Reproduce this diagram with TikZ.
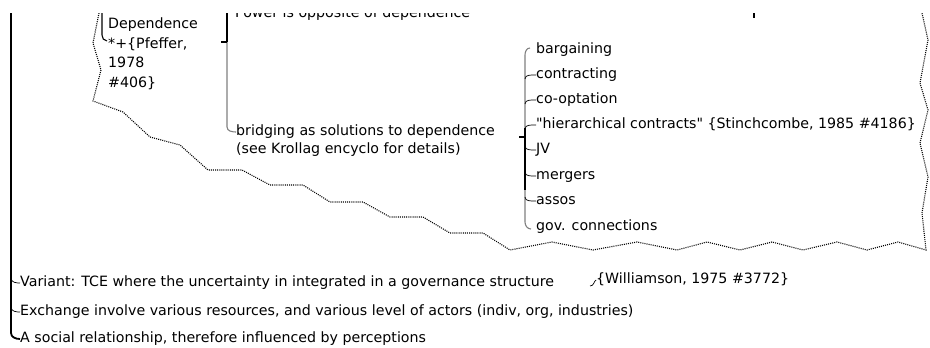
\documentclass[tikz,border=0pt]{standalone}
\usepackage{fontspec}
\setmainfont{DejaVu Sans}
\begin{document}
\begin{tikzpicture}[x=1pt,y=-1pt,
  font=\fontsize{14.2}{17}\selectfont,
  txt/.style={anchor=west, inner sep=0pt, text height=10pt, text depth=3pt},
  thickln/.style={line width=1.8pt, black},
  greyln/.style={line width=1.1pt, gray},
  tickln/.style={line width=0.7pt, black},
  bound/.style={line width=1.1pt, dash pattern=on 1pt off 1.1pt}]
\useasboundingbox (0,0) rectangle (930,348);
\begin{scope}
\clip (0,13) rectangle (930,348);
% texts
\node[txt] (power) at (235,13.5) {Power is opposite of dependence};
\node[anchor=north west, inner sep=0pt, align=left, font=\fontsize{14.2}{19.5}\selectfont] (dep) at (108,18) {Dependence\\*+\{Pfeffer,\\1978\\\#406\}};
\node[txt] (bridge1) at (236,132) {bridging as solutions to dependence};
\node[txt] (bridge2) at (236,150) {(see Krollag encyclo for details)};
\node[txt] (c1) at (536,50) {bargaining};
\node[txt] (c2) at (536,75) {contracting};
\node[txt] (c3) at (536,100) {co-optation};
\node[txt] (c4) at (536,125) {\textquotedbl hierarchical contracts\textquotedbl{} \{Stinchcombe, 1985 \#4186\}};
\node[txt] (c5) at (536,150) {JV};
\node[txt] (c6) at (536,176) {mergers};
\node[txt] (c7) at (536,201) {assos};
\node[txt] (c8) at (536,227) {gov. connections};
\node[txt] (variant) at (20,283) {Variant: TCE where the uncertainty in integrated in a governance structure};
\node[txt] (will) at (596,280) {\{Williamson, 1975 \#3772\}};
\node[txt] (exch) at (20,312) {Exchange involve various resources, and various level of actors (indiv, org, industries)};
\node[txt] (social) at (20,339) {A social relationship, therefore influenced by perceptions};
% main left line
\coordinate (mtop) at (11,10);
\draw[thickln] (mtop) -- (11,333) to[out=-90,in=180] (social.west);
\draw[tickln] (11,279) to[out=-70,in=180] (variant.west);
\draw[tickln] (11,308) to[out=-70,in=180] (exch.west);
% dependence bracket
\coordinate (dtop) at (102,10);
\draw[greyln, black] (dtop) -- (102,35) to[out=-90,in=180] (107,41);
% middle bracket
\coordinate (btop) at (227,10);
\coordinate (bmid) at (227,42);
\coordinate (btick) at (221,42);
\draw[greyln] (bmid) -- (227,127) to[out=-90,in=180] (bridge1.west);
\draw[thickln] (btop) -- (bmid);
\draw[thickln] (btick) -- (bmid);
% list bracket
\coordinate (ltick) at (519,137);
\coordinate (lmid) at (525,137);
\draw[greyln] (530,48) to[out=180,in=90] (525,55) -- (525,222) to[out=-90,in=180] (531,229);
\draw[thickln] (525,128) -- (525,190);
\draw[thickln] (ltick) -- (lmid);
\foreach \n/\y in {c2/75,c3/100,c4/125}
  \draw[tickln] (525,\y+4) to[out=90,in=180] (\n.west);
\foreach \n/\y in {c5/150,c6/176,c7/201}
  \draw[tickln] (525,\y-4) to[out=-90,in=180] (\n.west);
% williamson connector
\draw[tickln] (590,286) .. controls (594,286) and (594,281) .. (will.west);
% small mark
\draw[line width=1.8pt] (754,12) -- (754,18);
% boundary
\draw[bound] (99,13) -- (93,43) -- (101,70) -- (93,101) -- (123,112) -- (150,137)
  -- (180,145) -- (208,170) -- (242,170) -- (270,185) -- (303,185) -- (330,202)
  -- (363,202) -- (390,217) -- (423,217) -- (450,233) -- (483,233) -- (510,250)
  -- (552,242) -- (593,250) -- (637,242) -- (677,250) -- (707,242) -- (740,250)
  -- (772,242) -- (803,250) -- (837,242) -- (867,250) -- (898,242) -- (926,250)
  -- (922,213) -- (928,177) -- (920,143) -- (928,110) -- (920,83) -- (928,40) -- (922,13);
\end{scope}
\end{tikzpicture}
\end{document}
